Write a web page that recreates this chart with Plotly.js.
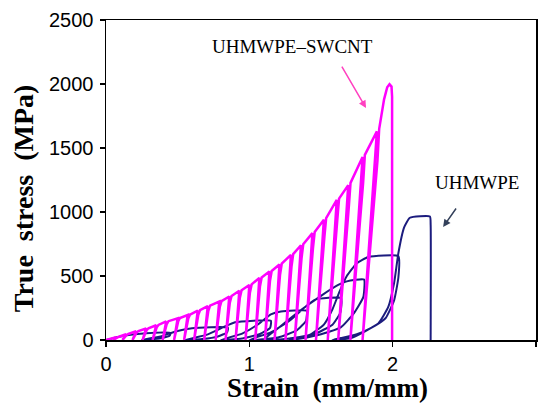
<!DOCTYPE html>
<html>
<head>
<meta charset="utf-8">
<script src="https://cdn.plot.ly/plotly-3.0.1.min.js"></script>
<style>html,body{margin:0;padding:0;background:#fff;}#chart{width:541px;height:404px;}</style>
</head>
<body>
<div id="chart"></div>
<script>
// UHMWPE-SWCNT: cyclic loading, per-cycle values
const swcntPeakStrain = [0.07,0.14,0.21,0.28,0.35,0.42,0.50,0.57,0.64,0.71,0.79,0.86,0.93,1.00,1.07,1.14,1.21,1.29,1.36,1.44,1.52,1.61,1.69,1.79,1.89];
const swcntPeakStress = [22,45,68,90,115,145,170,195,230,265,300,340,385,430,485,535,590,665,740,835,940,1095,1210,1430,1630];
const swcntResidualStrain = [0.05,0.115,0.185,0.255,0.325,0.395,0.475,0.545,0.615,0.685,0.765,0.834,0.904,0.973,1.041,1.109,1.176,1.252,1.317,1.392,1.465,1.547,1.62,1.705,1.79];
// final cycle up to fracture
const swcntFinalStrain = [1.94,1.962,1.978,1.992,1.996,1.996];
const swcntFinalStress = [1880,1975,1998,1980,1900,0];

// UHMWPE: curve vertices
const pureStrain = [0,0.10,0.20,0.28,0.45, 0.445,0.39,0.30,0.25, 0.38,0.50,0.60,0.85, 0.845,0.78,0.67,0.55,
  0.70,0.82,0.90,1.15, 1.145,1.07,0.95,0.80, 0.95,1.07,1.15,1.22,1.40, 1.395,1.33,1.20,1.00,
  1.15,1.28,1.38,1.46,1.64, 1.635,1.58,1.45,1.25,1.10, 1.22,1.36,1.50,1.62,1.68,1.80,
  1.795,1.73,1.64,1.50,1.36,1.28, 1.42,1.52,1.58,1.63,1.68,1.75,1.83,2.04,
  2.04,2.01,1.95,1.85,1.75,1.64,1.58, 1.71,1.90,1.97,2.01,2.04,2.08,2.12,2.26,2.265,2.265];
const pureStress = [0,28,45,53,56, 35,15,4,0, 28,70,92,97, 60,28,7,0,
  40,100,138,150, 95,45,12,0, 50,130,200,222,228, 150,75,20,0,
  60,150,250,315,328, 215,120,45,8,0, 110,234,345,430,458,472,
  335,210,100,45,12,0, 40,120,240,380,500,600,648,655,
  490,310,170,95,45,15,0, 15,130,260,445,680,880,955,965,900,0];

const annSwcnt = 'UHMWPE–SWCNT';
const annPure = 'UHMWPE';
const yTitle = '<b>True  stress  (MPa)</b>';
const xTitle = '<b>Strain  (mm/mm)</b>';

// build the loading / unloading path of the SWCNT curve
const sx = [0], sy = [0];
function reload(i) {
  // from residual strain back up, rounding into the envelope just past the previous peak
  const e = swcntPeakStrain[i], s = swcntPeakStress[i];
  const sNext = i + 1 < swcntPeakStress.length ? swcntPeakStress[i+1] : swcntFinalStress[0];
  sx.push(swcntResidualStrain[i]); sy.push(0);
  sx.push(e + 0.004); sy.push(s * 0.86);
  sx.push(e + 0.009); sy.push(s * 0.96);
  sx.push(e + 0.016); sy.push(s + (sNext - s) * 0.08);
}
for (let i = 0; i < swcntPeakStrain.length; i++) {
  if (i > 0) reload(i - 1);
  sx.push(swcntPeakStrain[i]); sy.push(swcntPeakStress[i]);
  sx.push(swcntResidualStrain[i]); sy.push(0);
}
reload(swcntPeakStrain.length - 1);
for (let i = 0; i < swcntFinalStrain.length; i++) { sx.push(swcntFinalStrain[i]); sy.push(swcntFinalStress[i]); }

const traces = [
  {x: pureStrain, y: pureStress, mode: 'lines', type: 'scatter', name: 'UHMWPE',
   line: {color: '#1c1c7e', width: 2, shape: 'spline', smoothing: 0.45}, hoverinfo: 'skip'},
  {x: sx, y: sy, mode: 'lines', type: 'scatter', name: 'UHMWPE-SWCNT',
   line: {color: '#ff00ff', width: 2.5}, hoverinfo: 'skip'}
];

const axisCommon = {
  showline: true, mirror: true, linecolor: '#000', linewidth: 1.5,
  ticks: 'outside', ticklen: 5, tickwidth: 1.5, tickcolor: '#000',
  showgrid: false, zeroline: false,
  tickfont: {family: 'Liberation Sans, Arial, sans-serif', size: 20, color: '#000'}
};
const serif = 'Liberation Serif, Times New Roman, serif';

const layout = {
  width: 541, height: 404,
  margin: {l: 106, r: 5, t: 20, b: 64},
  paper_bgcolor: '#fff', plot_bgcolor: '#fff',
  showlegend: false,
  xaxis: Object.assign({}, axisCommon, {range: [0, 3], tickvals: [0, 1, 2, 3]}),
  yaxis: Object.assign({}, axisCommon, {
    range: [0, 2500], tickvals: [0, 500, 1000, 1500, 2000, 2500], ticklabelstandoff: 2
  }),
  annotations: [
    {x: -0.19, y: 1110, xref: 'paper', yref: 'y', text: yTitle, showarrow: false, textangle: -90,
     xanchor: 'center', yanchor: 'middle', font: {family: serif, size: 28, color: '#000'}},
    {x: 0.514, y: -0.15, xref: 'paper', yref: 'paper', text: xTitle, showarrow: false,
     xanchor: 'center', yanchor: 'middle', font: {family: serif, size: 27, color: '#000'}},
    {x: 1.30, y: 2290, xref: 'x', yref: 'y', text: annSwcnt, showarrow: false,
     font: {family: serif, size: 19, color: '#000'}},
    {x: 1.814, y: 1812, xref: 'x', yref: 'y', text: '', showarrow: true,
     ax: -25, ay: -43, arrowhead: 2, arrowsize: 1, arrowwidth: 1.5, arrowcolor: '#ff40c0', standoff: 0},
    {x: 2.59, y: 1227, xref: 'x', yref: 'y', text: annPure, showarrow: false,
     font: {family: serif, size: 19, color: '#000'}},
    {x: 2.352, y: 883, xref: 'x', yref: 'y', text: '', showarrow: true,
     ax: 14, ay: -20, arrowhead: 2, arrowsize: 1, arrowwidth: 1.5, arrowcolor: '#33405a', standoff: 0}
  ]
};

Plotly.newPlot('chart', traces, layout, {staticPlot: true, displayModeBar: false});
</script>
</body>
</html>
